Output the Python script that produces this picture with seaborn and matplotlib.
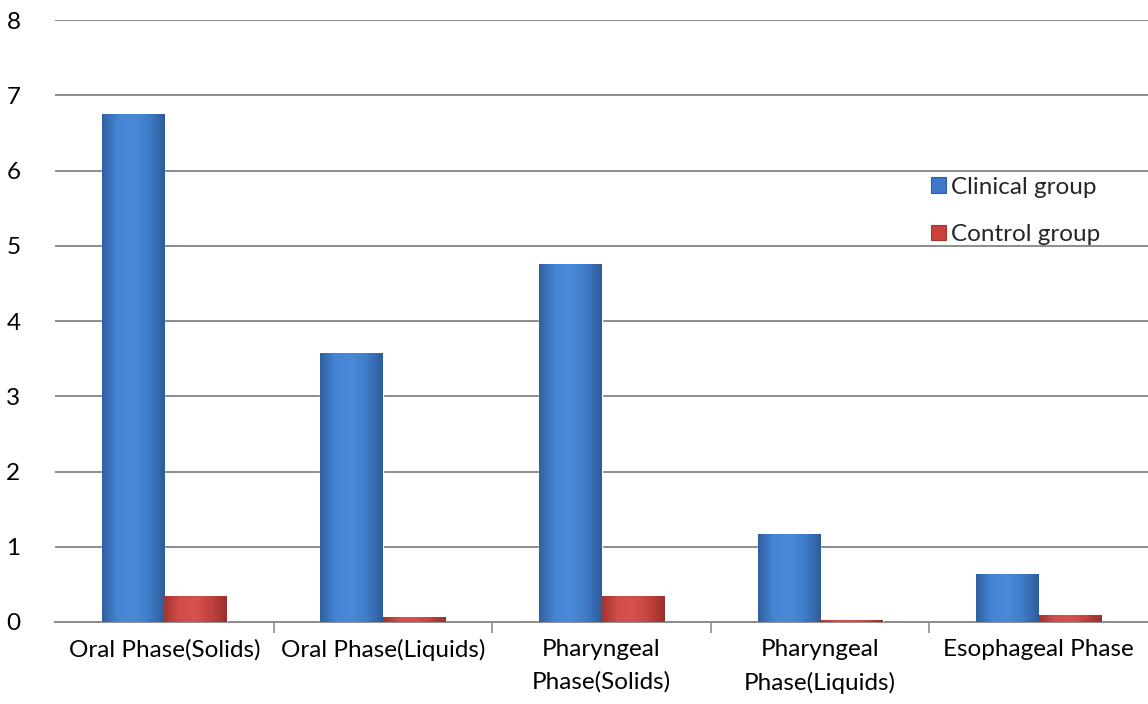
import numpy as np
import pandas as pd
import matplotlib
matplotlib.use("Agg")
import matplotlib.pyplot as plt
import seaborn as sns
from matplotlib.colors import LinearSegmentedColormap
from matplotlib.patches import Patch

categories = ["Oral Phase(Solids)", "Oral Phase(Liquids)", "Pharyngeal\nPhase(Solids)",
              "Pharyngeal\nPhase(Liquids)", "Esophageal Phase"]
clinical = [6.75, 3.58, 4.76, 1.17, 0.64]
control = [0.34, 0.06, 0.34, 0.03, 0.09]
groups = ["Clinical group", "Control group"]
colors = {"Clinical group": "#3d78c9", "Control group": "#c9403d"}

df = pd.DataFrame({
    "category": categories * 2,
    "value": clinical + control,
    "group": [groups[0]] * len(categories) + [groups[1]] * len(categories),
})

sns.set_theme(style="white")
plt.rcParams["font.family"] = ["Lato", "DejaVu Sans"]
FS = 17.5

fig = plt.figure(figsize=(11.48, 7.04), dpi=100)
ax = fig.add_axes([0.048, 0.1165, 0.952, 0.855])

sns.barplot(data=df, x="category", y="value", hue="group", palette=colors,
            width=0.572, saturation=1, ax=ax, legend=False, zorder=3)

# shaded look for the bars, like the Excel bevel
shades = {
    "Clinical group": ["#30609f", "#4485d4", "#4a8ad8", "#3f7bc8", "#2f5c98"],
    "Control group": ["#a03532", "#d24c48", "#d6524f", "#c2423f", "#992f2d"],
}
for container, g in zip(ax.containers, groups):
    cmap = LinearSegmentedColormap.from_list(g, shades[g])
    grad = np.linspace(0, 1, 256).reshape(1, -1)
    for bar in container:
        x0, y0 = bar.get_x(), bar.get_y()
        w, h = bar.get_width(), bar.get_height()
        im = ax.imshow(grad, extent=[x0, x0 + w, y0, y0 + h], aspect="auto",
                       cmap=cmap, zorder=3.5, origin="lower")
        im.set_clip_path(bar)

ax.set_xlim(-0.5, len(categories) - 0.5)
ax.set_ylim(0, 8)
ax.set_yticks(range(0, 9))
ax.yaxis.grid(True, color="#8c8c8c", linewidth=1.4, zorder=0)
ax.set_axisbelow(True)
for s in ["left", "right", "top"]:
    ax.spines[s].set_visible(False)
ax.spines["bottom"].set_color("#8c8c8c")
ax.spines["bottom"].set_linewidth(1.4)

ax.set_xticks(range(len(categories)))
ax.set_xticklabels(categories, fontsize=FS, linespacing=1.65)
ax.set_xticks(np.arange(0.5, len(categories) - 0.5, 1), minor=True)
ax.tick_params(axis="x", which="major", length=0, pad=12, colors="black")
ax.tick_params(axis="x", which="minor", bottom=True, length=8, width=1.2, color="#8c8c8c")
ax.tick_params(axis="y", length=0, pad=30, labelsize=FS, colors="black")
for lab in ax.get_yticklabels():
    lab.set_horizontalalignment("center")
ax.set_xlabel("")
ax.set_ylabel("")

handles = [Patch(facecolor=colors[g], edgecolor=shades[g][0], linewidth=0.8) for g in groups]
ax.legend(handles, groups, loc="upper left", bbox_to_anchor=(0.8015, 0.74), frameon=False,
          fontsize=FS, handlelength=0.6, handleheight=0.6, handletextpad=0.2,
          labelspacing=1.08, borderaxespad=0, borderpad=0)

fig.savefig("out.png", dpi=100)
